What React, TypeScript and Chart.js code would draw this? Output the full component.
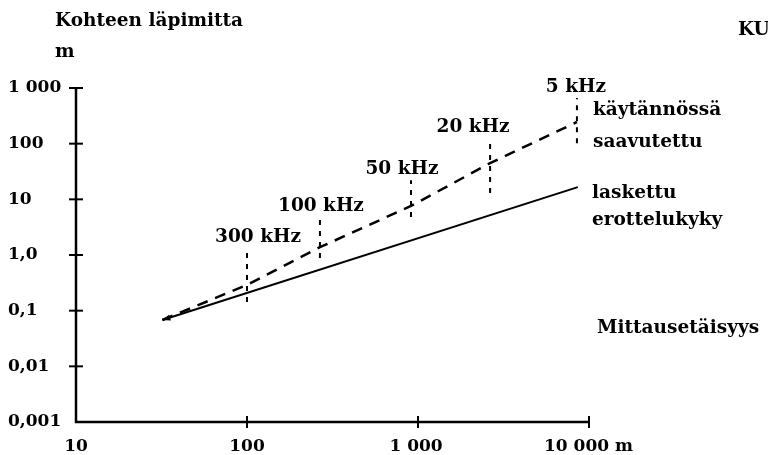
import { useEffect, useRef } from "react";
import { Chart, registerables } from "chart.js";

Chart.register(...registerables);

// X axis: measuring distance (m), log scale
const distanceTicks = [10, 100, 1000, 10000];
const distanceTickLabels = ["10", "100", "1 000", "10 000 m"];
// Y axis: target diameter (m), log scale
const diameterTicks = [0.001, 0.01, 0.1, 1, 10, 100, 1000];
const diameterTickLabels = ["0,001", "0,01", "0,1", "1,0", "10", "100", "1 000"];

// "laskettu erottelukyky" (calculated resolution)
const calcDistance = [32, 8600];
const calcDiameter = [0.068, 16.6];

// "käytännössä saavutettu" (achieved in practice)
const practicalDistance = [32, 100, 267, 910, 2640, 8500];
const practicalDiameter = [0.068, 0.29, 1.38, 7.6, 44.7, 245];

// frequency markers
const freqLabels = ["300 kHz", "100 kHz", "50 kHz", "20 kHz", "5 kHz"];
const freqDistance = [100, 267, 910, 2640, 8500];
const freqTop = [1.33, 4.8, 22, 126, 660];
const freqBottom = [0.143, 0.88, 4.8, 13, 102];

const FONT_NUM = "bold 17px 'DejaVu Serif'";
const FONT_TEXT = "bold 18.5px 'DejaVu Serif'";
const freqLabelDx = [11, 1, -9, -17, -1];

const overlayPlugin = {
  id: "overlay",
  afterDatasetsDraw(chart: any) {
    const ctx = chart.ctx as CanvasRenderingContext2D;
    const xs = chart.scales.x;
    const ys = chart.scales.y;
    const { left, bottom } = chart.chartArea;
    const right = xs.getPixelForValue(distanceTicks[distanceTicks.length - 1]);
    const top = ys.getPixelForValue(diameterTicks[diameterTicks.length - 1]);
    ctx.save();
    ctx.strokeStyle = "#000";
    ctx.fillStyle = "#000";
    ctx.lineCap = "butt";
    // axes
    ctx.lineWidth = 2.5;
    ctx.beginPath();
    ctx.moveTo(left, top - 1);
    ctx.lineTo(left, bottom);
    ctx.lineTo(right, bottom);
    ctx.stroke();
    // y ticks
    ctx.lineWidth = 2;
    diameterTicks.forEach((v, i) => {
      if (i === 0) return;
      const y = ys.getPixelForValue(v);
      ctx.beginPath();
      ctx.moveTo(left - 7, y);
      ctx.lineTo(left + 7, y);
      ctx.stroke();
    });
    // x ticks
    distanceTicks.forEach((v, i) => {
      if (i === 0) return;
      const x = xs.getPixelForValue(v);
      ctx.beginPath();
      ctx.moveTo(x, bottom - 6);
      ctx.lineTo(x, bottom + 6);
      ctx.stroke();
    });
    ctx.font = FONT_NUM;
    // y tick labels
    ctx.textAlign = "left";
    ctx.textBaseline = "middle";
    diameterTicks.forEach((v, i) => {
      ctx.fillText(diameterTickLabels[i], 8, ys.getPixelForValue(v));
    });
    // x tick labels
    ctx.textBaseline = "alphabetic";
    distanceTicks.forEach((v, i) => {
      const x = xs.getPixelForValue(v);
      if (i === distanceTicks.length - 1) {
        ctx.textAlign = "left";
        ctx.fillText(distanceTickLabels[i], x - 45, bottom + 29);
      } else {
        ctx.textAlign = "center";
        ctx.fillText(distanceTickLabels[i], x - (i === 2 ? 2 : 0), bottom + 29);
      }
    });
    // frequency labels
    ctx.font = FONT_TEXT;
    ctx.textAlign = "center";
    freqLabels.forEach((lab, i) => {
      const x = xs.getPixelForValue(freqDistance[i]) + freqLabelDx[i];
      const y = ys.getPixelForValue(freqTop[i]) - 6;
      ctx.fillText(lab, x, y);
    });
    // series labels and titles
    ctx.textAlign = "left";
    ctx.fillText("käytännössä", 593, 115);
    ctx.fillText("saavutettu", 593, 147);
    ctx.fillText("laskettu", 592, 198);
    ctx.fillText("erottelukyky", 592, 225);
    ctx.fillText("Mittausetäisyys", 597, 333);
    ctx.fillText("Kohteen läpimitta", 55, 26);
    ctx.fillText("m", 55, 57);
    ctx.fillText("KU", 738, 35);
    // arrowhead at the start of the lines
    const x0 = xs.getPixelForValue(calcDistance[0]);
    const y0 = ys.getPixelForValue(calcDiameter[0]);
    const x1 = xs.getPixelForValue(calcDistance[1]);
    const y1 = ys.getPixelForValue(calcDiameter[1]);
    const ang = Math.atan2(y0 - y1, x0 - x1);
    ctx.beginPath();
    ctx.moveTo(x0, y0);
    ctx.lineTo(x0 - 8 * Math.cos(ang) + 3 * Math.sin(ang), y0 - 8 * Math.sin(ang) - 3 * Math.cos(ang));
    ctx.lineTo(x0 - 8 * Math.cos(ang) - 3 * Math.sin(ang), y0 - 8 * Math.sin(ang) + 3 * Math.cos(ang));
    ctx.closePath();
    ctx.fill();
    ctx.restore();
  },
};

export default function App() {
  const ref = useRef<HTMLCanvasElement | null>(null);
  useEffect(() => {
    if (!ref.current) return;
    const markerSets = freqLabels.map((lab, i) => ({
      label: lab,
      data: [
        { x: freqDistance[i], y: freqBottom[i] },
        { x: freqDistance[i], y: freqTop[i] },
      ],
      borderColor: "#000",
      borderWidth: 2,
      borderDash: [5, 6],
      showLine: true,
      pointRadius: 0,
    }));
    const chart = new Chart(ref.current, {
      type: "scatter",
      data: {
        datasets: [
          {
            label: "laskettu erottelukyky",
            data: calcDistance.map((x, i) => ({ x, y: calcDiameter[i] })),
            borderColor: "#000",
            borderWidth: 2,
            showLine: true,
            pointRadius: 0,
          },
          {
            label: "käytännössä saavutettu",
            data: practicalDistance.map((x, i) => ({ x, y: practicalDiameter[i] })),
            borderColor: "#000",
            borderWidth: 2.5,
            borderDash: [11, 8],
            showLine: true,
            pointRadius: 0,
          },
          ...markerSets,
        ],
      },
      options: {
        responsive: false,
        animation: false,
        layout: { padding: { left: 76, right: 179, top: 88, bottom: 33 } },
        plugins: { legend: { display: false }, tooltip: { enabled: false }, title: { display: false } },
        scales: {
          x: { type: "logarithmic", min: 10, max: 10000, display: false },
          y: { type: "logarithmic", min: 0.001, max: 1000, display: false },
        },
      },
      plugins: [overlayPlugin],
    });
    return () => chart.destroy();
  }, []);
  return (
    <div style={{ position: "absolute", left: 0, top: 0, width: 768, height: 455, background: "#fff" }}>
      <canvas ref={ref} width={768} height={455} style={{ display: "block" }} />
    </div>
  );
}
